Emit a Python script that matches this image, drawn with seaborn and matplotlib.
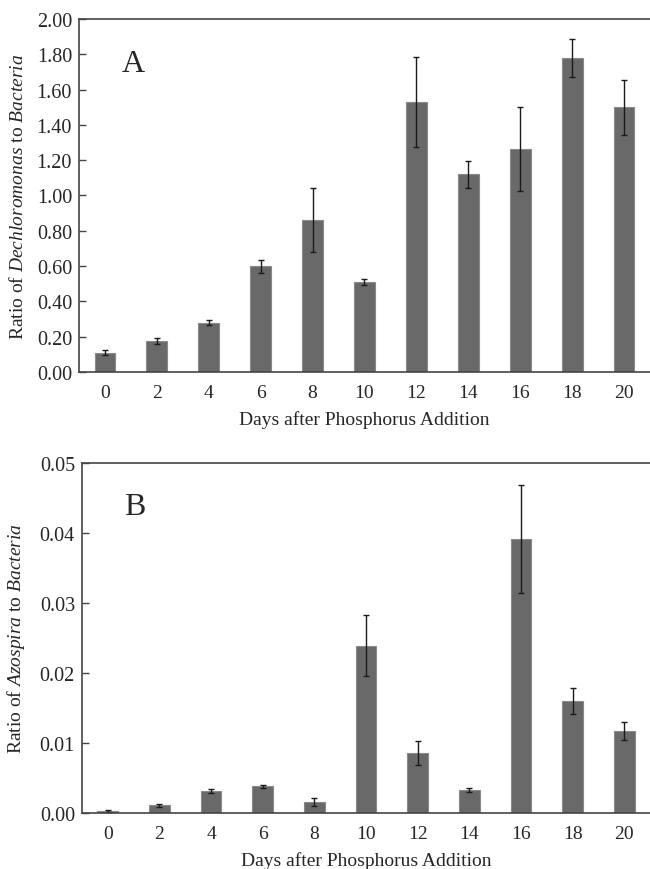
import numpy as np
import pandas as pd
import seaborn as sns
from matplotlib import pyplot as plt
from matplotlib.ticker import FixedLocator, FormatStrFormatter

days = ['0', '2', '4', '6', '8', '10', '12', '14', '16', '18', '20']

# panel A: Dechloromonas / Bacteria
dechloro_mean = [0.11, 0.175, 0.28, 0.60, 0.86, 0.51, 1.53, 1.12, 1.265, 1.78, 1.50]
dechloro_err = [0.012, 0.017, 0.012, 0.037, 0.18, 0.018, 0.255, 0.078, 0.238, 0.108, 0.155]

# panel B: Azospira / Bacteria
azo_mean = [0.0003, 0.0011, 0.0031, 0.0038, 0.0016, 0.0239, 0.0086, 0.0033, 0.0391, 0.0160, 0.0117]
azo_err = [0.0001, 0.0002, 0.0003, 0.0002, 0.0006, 0.0044, 0.0017, 0.0003, 0.0077, 0.0018, 0.0013]

sns.set_style('white')
plt.rcParams['font.family'] = ['Liberation Serif', 'DejaVu Serif']
plt.rcParams['mathtext.fontset'] = 'custom'
plt.rcParams['mathtext.rm'] = 'Liberation Serif'
plt.rcParams['mathtext.it'] = 'Liberation Serif:italic'

BAR_COLOR = '#696969'


def panel(ax, mean, err, ymax, yticks, ylabel, letter):
    df = pd.DataFrame({'day': days, 'ratio': mean})
    sns.barplot(data=df, x='day', y='ratio', color=BAR_COLOR, width=0.4,
                edgecolor='#8a8a8a', linewidth=0.8, saturation=1, ax=ax)
    pos = np.arange(len(days))
    ax.errorbar(pos, mean, yerr=err, fmt='none', ecolor='#1a1a1a',
                elinewidth=1.0, capsize=2, capthick=1.0)
    ax.set_xlim(-0.5, len(days) - 0.5)
    ax.set_ylim(0, ymax)
    ax.set_yticks(yticks)
    ax.yaxis.set_major_formatter(FormatStrFormatter('%.2f'))
    ax.xaxis.set_minor_locator(FixedLocator(pos[:-1] + 0.5))
    ax.tick_params(axis='x', which='major', length=0, labelsize=14, pad=9)
    ax.tick_params(axis='x', which='minor', direction='in', length=5, width=1, color='#444444')
    ax.tick_params(axis='y', direction='in', length=5, width=1, color='#444444',
                   labelsize=14.5, pad=5, left=True)
    for side in ['left', 'bottom', 'top']:
        ax.spines[side].set_visible(True)
        ax.spines[side].set_color('#444444')
        ax.spines[side].set_linewidth(1.2)
    ax.spines['right'].set_visible(False)
    ax.set_xlabel('Days after Phosphorus Addition', fontsize=14, labelpad=6)
    ax.set_ylabel(ylabel, fontsize=14, labelpad=6)
    ax.text(0.075, 0.853, letter, transform=ax.transAxes, fontsize=23,
            ha='left', va='baseline')


fig = plt.figure(figsize=(6.5, 8.7), dpi=100)
ax_a = fig.add_axes([0.1215, 0.5713, 0.8785, 0.4057])
ax_b = fig.add_axes([0.126, 0.0644, 0.874, 0.4023])

panel(ax_a, dechloro_mean, dechloro_err, 2.0, np.arange(0, 2.01, 0.2),
      r'Ratio of $\it{Dechloromonas}$ to $\it{Bacteria}$', 'A')
panel(ax_b, azo_mean, azo_err, 0.05, np.arange(0, 0.051, 0.01),
      r'Ratio of $\it{Azospira}$ to $\it{Bacteria}$', 'B')

ax_a.yaxis.set_label_coords(-0.091, 0.5)
ax_b.yaxis.set_label_coords(-0.097, 0.5)

fig.savefig('out.png', dpi=100)
